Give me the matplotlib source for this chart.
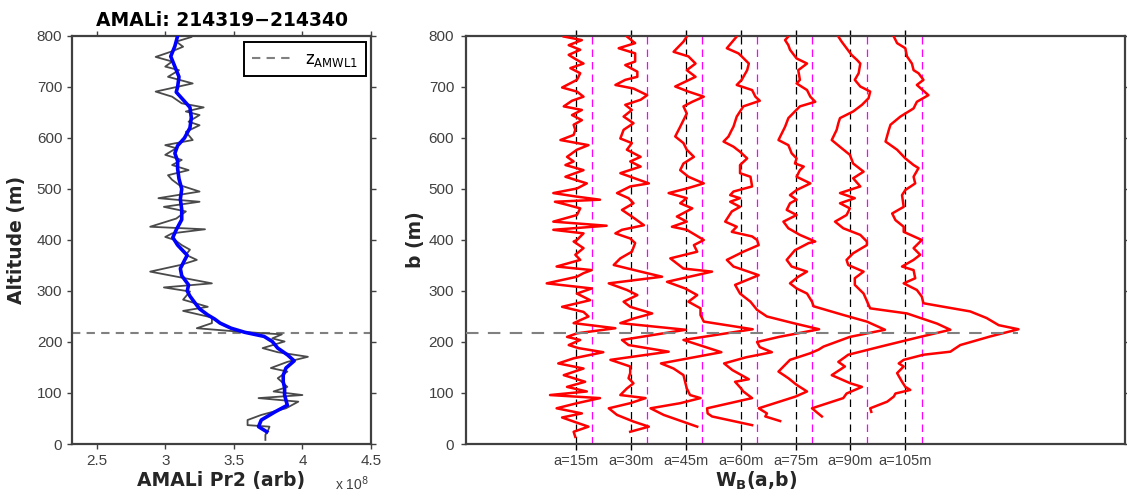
import matplotlib
matplotlib.use("Agg")
import matplotlib.pyplot as plt
import numpy as np

# ---------------- data ----------------
title_txt = "AMALi: 214319\u2212214340"
z_amwl1 = 217.0

# raw Pr2 profile (x 1e8), altitude (m)
alt_raw = [798, 789, 779, 770, 759, 750, 740, 733, 720, 707, 691, 681, 668, 660, 652, 645,
           632, 625, 612, 596, 586, 580, 567, 557, 547, 537, 527, 518, 508, 495, 482, 475,
           465, 456, 442, 426, 421, 413, 406, 400, 390, 381, 371, 361, 351, 338, 315, 307,
           299, 283, 269, 261, 248, 237, 227, 220, 215, 207, 201, 188, 180, 171, 161, 149,
           142, 129, 112, 103, 96, 90, 83, 70, 57, 47, 37, 34, 27, 18, 8]
pr2_raw = [3.19, 3.08, 3.13, 3.05, 2.93, 3.05, 3.00, 3.10, 3.02, 3.20, 2.93, 3.05, 3.12, 3.28, 3.15, 3.25,
           3.17, 3.25, 3.15, 3.20, 3.00, 3.08, 3.00, 3.12, 3.05, 3.17, 3.02, 3.05, 3.10, 3.25, 2.95, 3.25,
           2.99, 3.15, 3.08, 2.89, 3.29, 3.05, 3.00, 3.07, 3.12, 3.18, 3.15, 3.23, 3.11, 2.89, 3.34, 2.99,
           3.18, 3.13, 3.31, 3.13, 3.34, 3.34, 3.23, 3.55, 3.85, 3.78, 3.87, 3.71, 3.82, 4.04, 3.89, 3.77,
           3.89, 3.82, 3.89, 3.79, 4.00, 3.68, 3.97, 3.88, 3.70, 3.60, 3.60, 3.76, 3.75, 3.73, 3.73]

# smoothed Pr2 profile
alt_smooth = [800, 780, 760, 740, 720, 700, 690, 675, 660, 640, 620, 600, 585, 570, 555, 540,
              520, 500, 480, 460, 440, 420, 405, 390, 370, 360, 344, 330, 312, 300, 290, 279,
              265, 253, 245, 237, 227, 219, 211, 201, 188, 175, 163, 149, 135, 122, 110, 96,
              76, 63, 47, 34, 24]
pr2_smooth = [3.09, 3.07, 3.04, 3.07, 3.10, 3.09, 3.08, 3.13, 3.18, 3.19, 3.18, 3.14, 3.09, 3.07, 3.09, 3.09,
              3.10, 3.12, 3.11, 3.12, 3.12, 3.08, 3.055, 3.09, 3.16, 3.14, 3.11, 3.12, 3.17, 3.16, 3.18, 3.21,
              3.25, 3.31, 3.36, 3.40, 3.48, 3.58, 3.72, 3.78, 3.82, 3.89, 3.94, 3.88, 3.86, 3.86, 3.87, 3.87,
              3.89, 3.80, 3.70, 3.68, 3.74]

# wavelet covariance W_B(a,b) curves (offset from their column, in column units)
scale_labels = ["a=15m", "a=30m", "a=45m", "a=60m", "a=75m", "a=90m", "a=105m"]

b15 = [799, 792, 782, 773, 763, 753, 746, 737, 727, 714, 699, 691, 681, 673, 662, 655, 645, 635, 626, 616,
       606, 596, 586, 577, 563, 554, 547, 537, 524, 511, 501, 492, 485, 479, 475, 469, 462, 449, 436, 428,
       420, 413, 400, 397, 384, 371, 361, 348, 341, 335, 328, 315, 305, 295, 282, 269, 259, 250, 237, 227,
       217, 210, 204, 194, 188, 180, 168, 158, 148, 135, 122, 112, 103, 96, 90, 80, 70, 60, 52, 44,
       34, 24, 14]
w15 = [-0.22, 0.11, -0.13, 0.08, -0.13, 0.02, 0.14, -0.10, 0.08, 0.02, -0.25, 0.02, 0.14, -0.07, -0.22, 0.11,
       -0.07, 0.11, -0.04, -0.01, -0.04, -0.28, 0.23, 0.02, -0.16, -0.04, -0.19, 0.14, -0.19, 0.20, 0.02, -0.41,
       0.02, 0.44, -0.38, -0.16, 0.08, 0.02, -0.41, 0.56, -0.41, 0.14, 0.02, -0.04, 0.14, -0.01, 0.08, -0.35,
       0.29, 0.14, 0.02, -0.53, 0.29, 0.02, 0.26, -0.25, 0.14, 0.23, -0.04, 0.72, 0.02, -0.16, 0.08, -0.13,
       0.05, 0.50, -0.04, -0.32, 0.14, -0.22, 0.17, -0.16, 0.20, -0.47, 0.44, 0.02, -0.35, 0.11, -0.25, -0.04,
       0.23, -0.04, -0.01]

b30 = [799, 786, 776, 766, 750, 743, 730, 720, 714, 704, 697, 684, 675, 665, 655, 642, 629, 616, 599, 590,
       577, 563, 554, 544, 531, 511, 505, 492, 482, 472, 459, 446, 429, 420, 413, 403, 394, 377, 364, 351,
       338, 328, 315, 302, 292, 279, 269, 256, 246, 237, 224, 204, 194, 181, 165, 152, 139, 129, 119, 109,
       96, 90, 80, 70, 57, 44, 34, 24]
w30 = [-0.07, 0.08, -0.22, 0.08, 0.08, -0.10, 0.12, 0.12, -0.10, -0.28, 0.05, 0.30, 0.18, -0.10, 0.02, -0.13,
       0.05, -0.13, -0.19, 0.02, -0.07, 0.18, -0.01, 0.18, -0.19, 0.33, -0.01, -0.25, -0.04, 0.05, -0.16, 0.02,
       0.24, -0.16, -0.28, -0.01, 0.08, 0.02, -0.19, -0.31, 0.18, 0.57, -0.40, -0.07, 0.12, -0.13, -0.01, 0.39,
       0.05, -0.19, 1.00, -0.16, -0.04, 0.69, -0.37, -0.01, -0.01, -0.04, 0.05, -0.07, -0.19, 0.27, -0.01, -0.40,
       -0.25, 0.05, 0.33, -0.01]

b45 = [799, 789, 769, 760, 746, 733, 720, 701, 691, 681, 671, 662, 648, 635, 622, 603, 590, 577, 563, 550,
       537, 524, 511, 501, 492, 482, 472, 462, 446, 436, 426, 420, 400, 390, 377, 364, 344, 338, 318, 305,
       292, 279, 266, 253, 240, 225, 204, 180, 158, 148, 135, 109, 96, 90, 80, 70, 57, 34]
w45 = [0.02, -0.04, -0.22, 0.05, 0.18, 0.02, 0.18, -0.19, 0.05, 0.33, 0.12, -0.04, 0.02, -0.04, -0.10, -0.19,
       -0.04, 0.02, 0.15, -0.04, -0.10, 0.05, 0.33, 0.02, -0.31, 0.02, -0.10, 0.12, -0.16, 0.02, -0.25, 0.02,
       0.33, 0.15, 0.21, -0.28, -0.04, 0.48, -0.34, -0.01, 0.21, 0.05, 0.27, 0.27, 0.33, 1.22, -0.04, 0.65,
       -0.45, -0.22, -0.04, 0.02, 0.08, 0.27, -0.10, -0.64, -0.40, 0.21]

b60 = [799, 776, 766, 760, 746, 733, 714, 704, 694, 681, 673, 662, 642, 622, 616, 603, 593, 583, 573, 560,
       547, 531, 524, 505, 495, 488, 482, 475, 465, 456, 436, 426, 416, 407, 400, 390, 377, 361, 348, 331,
       312, 295, 279, 263, 250, 237, 225, 210, 200, 190, 180, 170, 158, 145, 127, 122, 110, 103, 90, 70,
       60, 54, 37]
w60 = [-0.07, -0.25, -0.04, 0.02, 0.15, 0.12, 0.02, -0.07, 0.21, 0.27, 0.35, 0.05, -0.07, -0.13, -0.16, -0.22,
       -0.31, -0.13, -0.01, 0.12, -0.01, -0.01, 0.18, 0.21, -0.13, -0.19, -0.01, -0.19, -0.01, -0.16, -0.28, -0.07,
       -0.16, 0.21, 0.30, 0.33, 0.05, -0.25, -0.13, 0.33, -0.10, -0.01, 0.18, 0.30, 0.48, 0.96, 1.43, 0.70,
       0.30, 0.35, 0.57, 0.10, -0.30, -0.15, 0.15, -0.10, 0.00, 0.05, 0.21, -0.61, -0.60, -0.52, 0.21]

b75 = [799, 792, 782, 773, 756, 746, 733, 714, 707, 694, 681, 671, 662, 639, 622, 609, 596, 586, 570, 560,
       550, 544, 537, 524, 511, 498, 488, 479, 472, 459, 449, 436, 423, 410, 397, 394, 380, 361, 348, 338,
       328, 315, 305, 295, 279, 270, 253, 240, 224, 210, 191, 185, 178, 165, 142, 129, 116, 103, 93, 70,
       60, 54, 45]
w75 = [-0.13, -0.19, -0.13, -0.10, 0.02, 0.21, 0.05, 0.08, 0.02, 0.21, 0.27, 0.36, 0.08, -0.13, -0.19, -0.25,
       -0.31, -0.13, -0.07, 0.02, -0.01, 0.15, 0.08, 0.02, 0.27, 0.02, -0.10, 0.02, -0.10, -0.16, 0.02, -0.22,
       -0.13, 0.08, 0.36, 0.24, -0.01, -0.16, -0.07, 0.21, 0.05, -0.10, 0.02, 0.21, 0.30, 0.33, 0.87, 1.30,
       1.63, 0.99, 0.51, 0.42, 0.27, -0.10, -0.31, -0.13, 0.02, 0.21, 0.00, -0.67, -0.52, -0.55, -0.28]

b90 = [799, 789, 776, 763, 753, 746, 727, 714, 701, 691, 678, 665, 652, 639, 629, 616, 596, 580, 567, 550,
       534, 521, 505, 492, 482, 472, 462, 449, 436, 423, 410, 397, 390, 374, 361, 351, 338, 325, 312, 295,
       273, 266, 256, 236, 224, 210, 191, 175, 161, 152, 135, 119, 112, 99, 90, 70, 54]
w90 = [-0.22, -0.16, -0.07, 0.02, 0.12, 0.18, 0.15, 0.08, 0.18, 0.36, 0.33, 0.21, 0.05, -0.19, -0.22, -0.25,
       -0.34, -0.16, -0.01, 0.05, 0.24, 0.05, 0.18, -0.19, 0.08, -0.19, -0.01, -0.07, -0.28, -0.13, 0.18, 0.30,
       0.30, 0.05, -0.07, -0.04, 0.24, 0.08, 0.08, 0.24, 0.33, 0.36, 1.03, 1.58, 1.82, 1.27, 0.55, -0.04,
       -0.22, -0.10, -0.34, 0.00, 0.21, -0.07, -0.13, -0.70, -0.52]

b105 = [799, 786, 776, 760, 746, 733, 727, 714, 704, 684, 671, 658, 642, 626, 616, 593, 577, 560, 547, 541,
        524, 511, 498, 488, 465, 452, 439, 426, 416, 400, 384, 371, 361, 348, 341, 325, 315, 302, 289, 276,
        269, 260, 247, 233, 225, 211, 194, 181, 175, 165, 158, 152, 139, 122, 112, 106, 99, 93, 83, 70, 63]
w105 = [-0.21, -0.15, 0.00, 0.03, 0.12, 0.15, 0.24, 0.33, 0.21, 0.42, 0.21, 0.15, -0.09, -0.27, -0.30, -0.36,
        -0.15, 0.00, 0.15, 0.24, 0.15, 0.18, 0.00, -0.06, -0.03, -0.24, -0.18, -0.03, -0.03, 0.30, 0.15, 0.27,
        0.15, -0.06, 0.15, 0.18, -0.03, 0.21, 0.30, 0.33, 0.70, 1.18, 1.48, 1.70, 2.06, 1.55, 1.00, 0.82,
        0.33, -0.03, -0.12, -0.03, -0.15, -0.06, 0.00, 0.09, -0.18, -0.21, -0.33, -0.64, -0.62]

wave_b = [b15, b30, b45, b60, b75, b90, b105]
wave_w = [w15, w30, w45, w60, w75, w90, w105]
magenta_offset = 0.3

# ---------------- style ----------------
AX_COL = "#404040"
TICK_FONT = ["Liberation Sans", "DejaVu Sans"]
LAB_FONT = ["DejaVu Sans"]

fig = plt.figure(figsize=(11.27, 4.97), dpi=100)
ax1 = fig.add_axes([72 / 1127, 1 - 444 / 497, 299 / 1127, 408 / 497])
ax2 = fig.add_axes([466 / 1127, 1 - 444 / 497, 659 / 1127, 408 / 497])

for ax in (ax1, ax2):
    for s in ax.spines.values():
        s.set_color(AX_COL)
        s.set_linewidth(1.6)
    ax.tick_params(direction="out", length=3.5, width=1.0, color=AX_COL,
                   labelcolor=AX_COL, labelsize=11, top=True, right=True,
                   labeltop=False, labelright=False)
    ax.set_ylim(0, 800)
    ax.set_yticks(np.arange(0, 801, 100))

# ---- left panel ----
ax1.plot(pr2_raw, alt_raw, color="#4a4a4a", lw=1.3, zorder=2)
ax1.plot(pr2_smooth, alt_smooth, color="#0000ff", lw=2.6, zorder=3)
ax1.axhline(z_amwl1, color="#808080", lw=1.5, dashes=(4, 3), zorder=1,
            label=r"$\mathregular{z_{AMWL1}}$")
ax1.set_xlim(2.32, 4.5)
ax1.set_xticks([2.5, 3, 3.5, 4, 4.5])
ax1.set_xticklabels(["2.5", "3", "3.5", "4", "4.5"], family=TICK_FONT)
ax1.set_yticklabels([str(v) for v in range(0, 801, 100)], family=TICK_FONT)
ax1.set_title(title_txt, fontsize=13.5, fontweight="bold", family=LAB_FONT, pad=7)
ax1.set_xlabel("AMALi Pr2 (arb)", fontsize=13.5, fontweight="bold", family=LAB_FONT, color="#262626")
ax1.set_ylabel("Altitude (m)", fontsize=13.5, fontweight="bold", family=LAB_FONT, color="#262626")
ax1.xaxis.set_label_coords(0.5, -0.065)
ax1.yaxis.set_label_coords(-0.155, 0.5)
leg = ax1.legend(loc="upper right", fontsize=12, fancybox=False, framealpha=1,
                 edgecolor="black", handlelength=2.4, borderpad=0.45, borderaxespad=0,
                 bbox_to_anchor=(0.982, 0.985))
leg.get_frame().set_linewidth(1.4)
fig.text(335 / 1127, 1 - 490 / 497, r"x 10$^{8}$", fontsize=10, color=AX_COL,
         family=TICK_FONT)

# ---- right panel ----
positions = np.arange(1, len(scale_labels) + 1)
max_x = -np.inf
for pos, bb, ww in zip(positions, wave_b, wave_w):
    ax2.axvline(pos, color="black", lw=0.9, dashes=(6, 4), zorder=1)
    ax2.axvline(pos + magenta_offset, color="#ff00ff", lw=0.9, dashes=(6, 4), zorder=1)
    xs = pos + np.array(ww)
    max_x = max(max_x, xs.max())
    ax2.plot(xs, bb, color="#ff0000", lw=1.8, zorder=3)
ax2.set_xlim(-1, 11)
ax2.hlines(z_amwl1, -1, max_x, color="#808080", lw=1.5, linestyles=(0, (6, 4.5)), zorder=4)
ax2.set_xticks(positions)
ax2.set_xticklabels(scale_labels, family=TICK_FONT)
ax2.set_yticklabels([str(v) for v in range(0, 801, 100)], family=TICK_FONT)
ax2.tick_params(axis="x", colors="black", labelcolor=AX_COL, length=4, labelsize=10.5)
ax2.tick_params(axis="y", pad=5)
ax2.set_xlabel(r"W$_{\mathbf{B}}$(a,b)", fontsize=13.5, fontweight="bold", family=LAB_FONT, color="#262626")
ax2.set_ylabel("b (m)", fontsize=13.5, fontweight="bold", family=LAB_FONT, color="#262626")
ax2.xaxis.set_label_coords(0.44, -0.062)
ax2.yaxis.set_label_coords(-0.062, 0.5)

fig.savefig("out.png", dpi=100)
